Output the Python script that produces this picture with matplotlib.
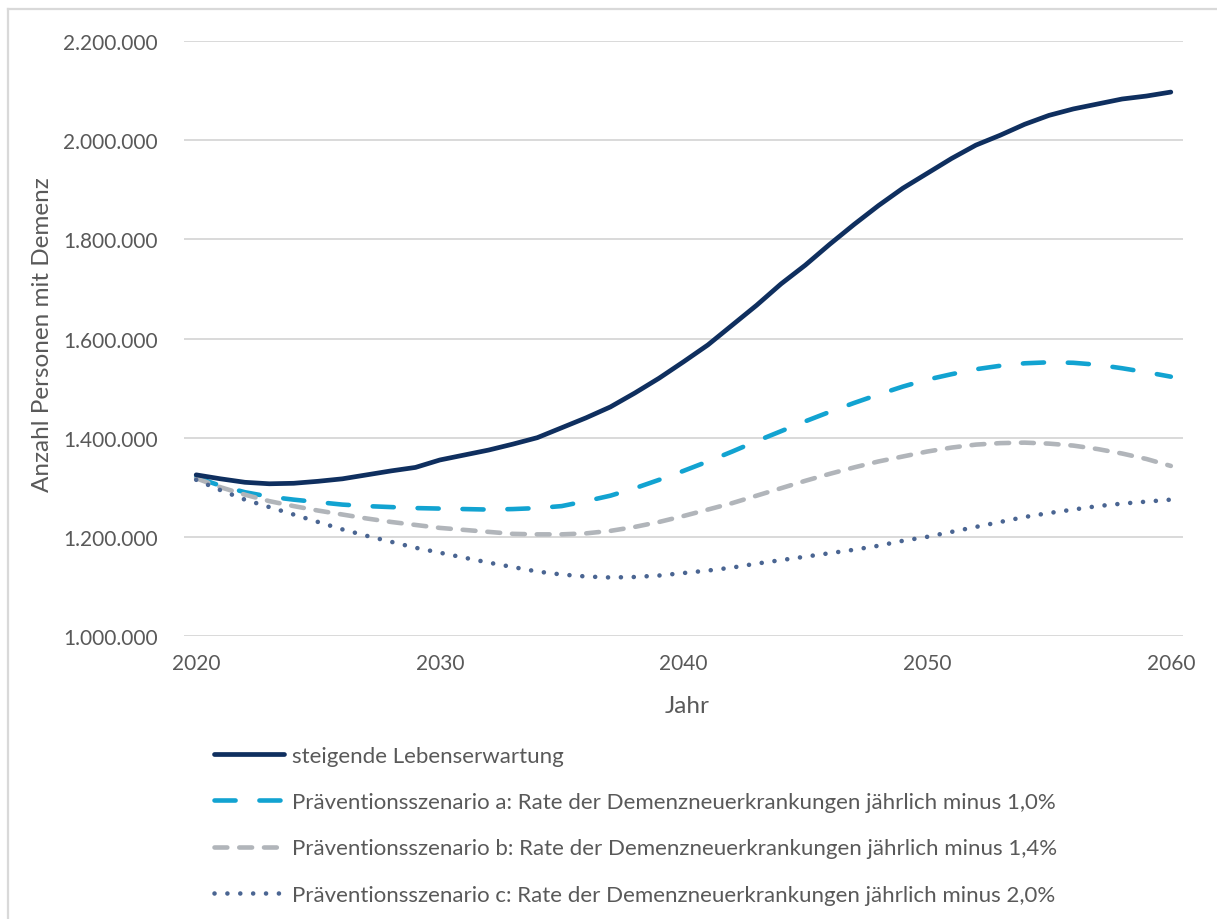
import numpy as np
import matplotlib
matplotlib.use('Agg')
import matplotlib.pyplot as plt
from matplotlib.ticker import FuncFormatter
from matplotlib.lines import Line2D

################################### Daten ##########################################
jahre = list(range(2020, 2061))

# steigende Lebenserwartung
basis = [1325000, 1317000, 1310000, 1307000, 1308000, 1312000, 1317000, 1325000, 1333000, 1340000,
         1355000, 1365000, 1375000, 1387000, 1400000, 1420000, 1440000, 1462000, 1490000, 1520000,
         1553000, 1587000, 1627000, 1667000, 1710000, 1748000, 1790000, 1830000, 1868000, 1903000,
         1933000, 1963000, 1990000, 2010000, 2032000, 2050000, 2063000, 2073000, 2083000, 2089000,
         2097000]

# Praeventionsszenario a (minus 1,0%)
szen_a = [1320000, 1303000, 1290000, 1281000, 1275000, 1270000, 1265000, 1262000, 1260000, 1258000,
          1257000, 1256000, 1255000, 1256000, 1258000, 1262000, 1272000, 1283000, 1298000, 1315000,
          1333000, 1352000, 1372000, 1393000, 1413000, 1433000, 1452000, 1470000, 1487000, 1503000,
          1517000, 1528000, 1538000, 1545000, 1550000, 1552000, 1551000, 1547000, 1540000, 1532000,
          1523000]

# Praeventionsszenario b (minus 1,4%)
szen_b = [1318000, 1300000, 1285000, 1272000, 1262000, 1253000, 1245000, 1237000, 1230000, 1224000,
          1218000, 1214000, 1210000, 1206000, 1205000, 1205000, 1207000, 1212000, 1220000, 1230000,
          1242000, 1255000, 1268000, 1283000, 1298000, 1313000, 1327000, 1340000, 1352000, 1362000,
          1372000, 1380000, 1386000, 1389000, 1390000, 1388000, 1384000, 1377000, 1368000, 1357000,
          1343000]

# Praeventionsszenario c (minus 2,0%)
szen_c = [1315000, 1294000, 1275000, 1260000, 1245000, 1230000, 1215000, 1202000, 1190000, 1178000,
          1168000, 1158000, 1148000, 1139000, 1130000, 1124000, 1120000, 1118000, 1119000, 1122000,
          1127000, 1132000, 1138000, 1146000, 1153000, 1160000, 1167000, 1174000, 1182000, 1192000,
          1200000, 1210000, 1220000, 1230000, 1240000, 1248000, 1255000, 1262000, 1267000, 1271000,
          1275000]

etichette = ['steigende Lebenserwartung',
             'Präventionsszenario a: Rate der Demenzneuerkrankungen jährlich minus 1,0%',
             'Präventionsszenario b: Rate der Demenzneuerkrankungen jährlich minus 1,4%',
             'Präventionsszenario c: Rate der Demenzneuerkrankungen jährlich minus 2,0%']

yticks = [1000000, 1200000, 1400000, 1600000, 1800000, 2000000, 2200000]
xticks = [2020, 2030, 2040, 2050, 2060]

################################### Grafico ##########################################
plt.rcParams['font.family'] = ['Lato', 'DejaVu Sans']
testo = '#595959'
fs_tick = 15
fs_leg = 16
fs_tit = 17.5

W, H = 1217, 920
fig = plt.figure(figsize=(W/100, H/100), dpi=100)
ax = fig.add_axes([184/W, 1 - 637/H, (1183-184)/W, (637-42)/H])

ax.plot(jahre, basis, color='#0F2F5F', lw=3.4, solid_capstyle='round', label=etichette[0], zorder=4)
ax.plot(jahre, szen_a, color='#12A3D1', lw=3.3, dash_capstyle='round', dashes=(4.6, 5.2),
        label=etichette[1], zorder=3)
ax.plot(jahre, szen_b, color='#B1B5BA', lw=3.3, dash_capstyle='round', dashes=(2.8, 2.6),
        label=etichette[2], zorder=3)
ax.plot(jahre, szen_c, color='#4A6592', lw=3.3, dash_capstyle='round', dashes=(0.01, 2.8),
        label=etichette[3], zorder=3)

ax.set_xlim(2019.5, 2060.5)
ax.set_ylim(1000000, 2200000)
ax.set_xticks(xticks)
ax.set_yticks(yticks)
ax.yaxis.set_major_formatter(FuncFormatter(lambda v, p: f'{v:,.0f}'.replace(',', '.')))
ax.grid(axis='y', color='#D9D9D9', lw=1.4)
ax.set_axisbelow(True)
for s in ax.spines.values():
    s.set_visible(False)
ax.tick_params(axis='both', length=0, labelsize=fs_tick, labelcolor=testo)
ax.tick_params(axis='y', pad=19)
ax.tick_params(axis='x', pad=12)

fig.text(687/W, 1 - 707/H, 'Jahr', ha='center', va='center', fontsize=fs_tit, color=testo)
fig.text(43/W, 1 - 335/H, 'Anzahl Personen mit Demenz', ha='center', va='center',
         rotation=90, fontsize=fs_tit, color=testo)

# legenda sotto il grafico
leg = fig.legend(loc='upper left', bbox_to_anchor=(194/W, 1 - 727/H), frameon=False,
                 fontsize=fs_leg, labelcolor=testo, handlelength=3.15, handletextpad=0.35,
                 labelspacing=1.18)

# cornice grigia
fig.add_artist(Line2D([8/W, 8/W], [0, 1 - 10/H], color='#D9D9D9', lw=1.6))
fig.add_artist(Line2D([8/W, 1], [1 - 10/H, 1 - 10/H], color='#D9D9D9', lw=1.6))

plt.savefig('out.png', dpi=100)
